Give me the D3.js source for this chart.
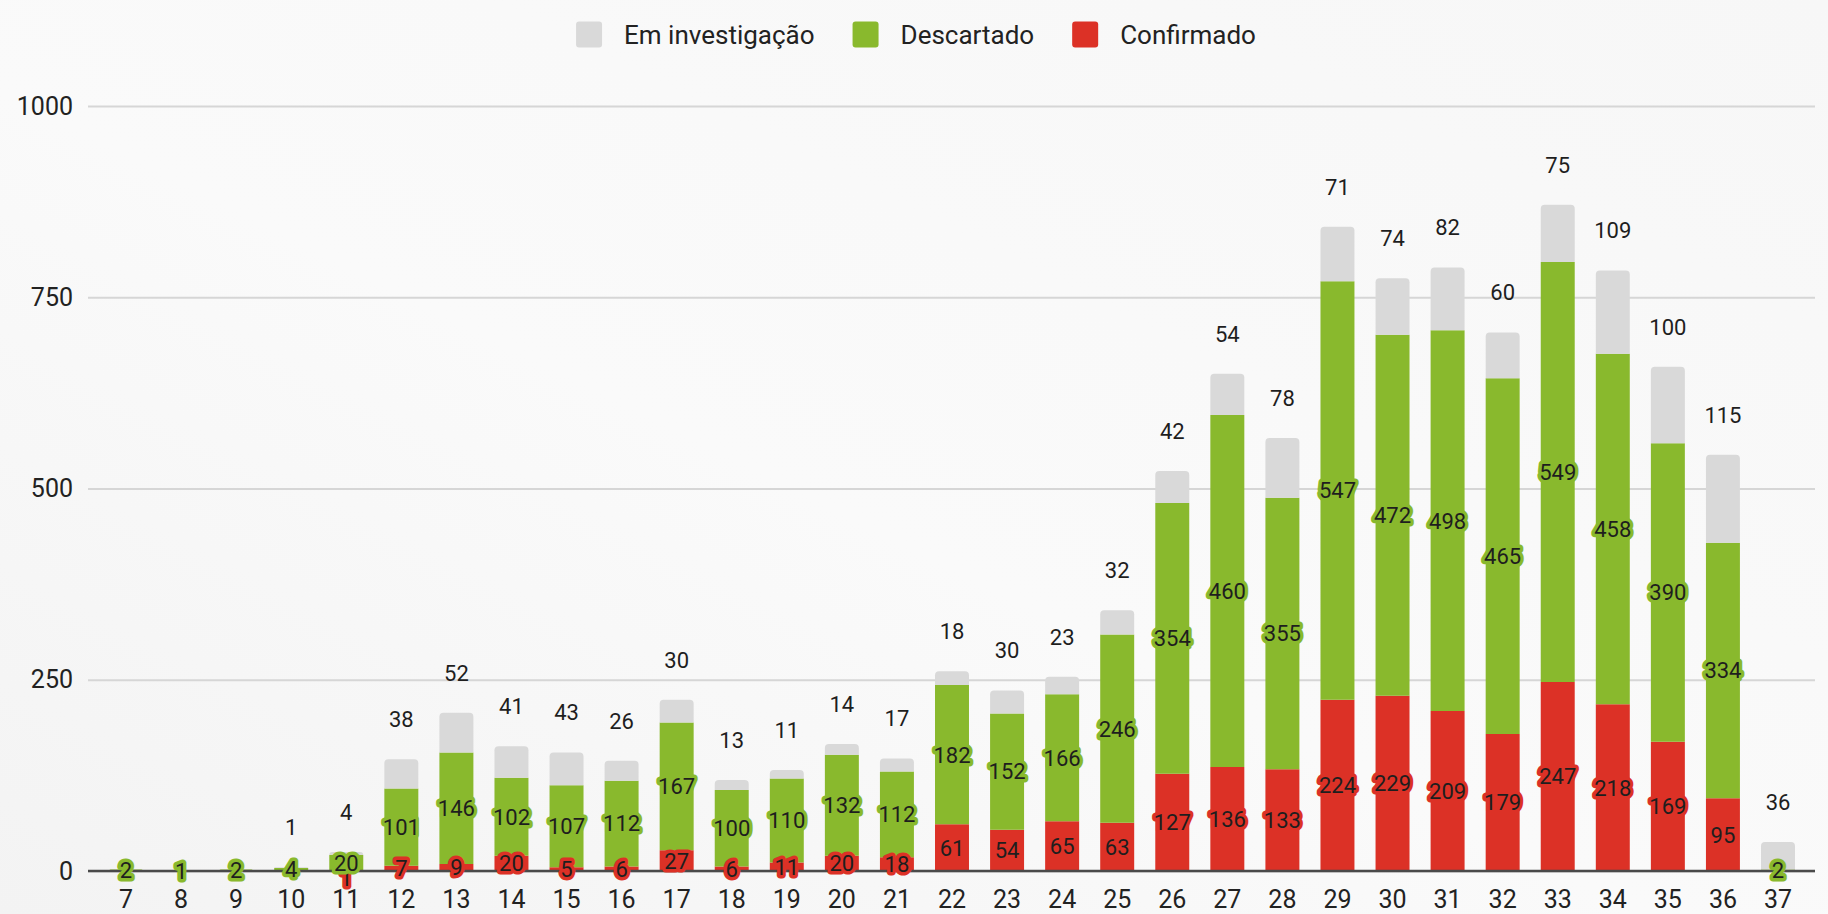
<!DOCTYPE html>
<html>
<head>
<meta charset="utf-8">
<script src="https://cdn.jsdelivr.net/npm/d3@7/dist/d3.min.js"></script>
<style>
    body { margin: 0; background: #f8f8f8; }
    svg { display: block; font-family: Roboto, Arial, sans-serif; }
</style>
</head>
<body>
<div id="chart"></div>
<script>
// Semana epidemiologica
var weeks = [7, 8, 9, 10, 11, 12, 13, 14, 15, 16, 17, 18, 19, 20, 21, 22, 23, 24, 25, 26, 27, 28, 29, 30, 31, 32, 33, 34, 35, 36, 37];
var confirmado = [0, 0, 0, 0, 1, 7, 9, 20, 5, 6, 27, 6, 11, 20, 18, 61, 54, 65, 63, 127, 136, 133, 224, 229, 209, 179, 247, 218, 169, 95, 0];
var descartado = [2, 1, 2, 4, 20, 101, 146, 102, 107, 112, 167, 100, 110, 132, 112, 182, 152, 166, 246, 354, 460, 355, 547, 472, 498, 465, 549, 458, 390, 334, 2];
var investigacao = [0, 0, 0, 1, 4, 38, 52, 41, 43, 26, 30, 13, 11, 14, 17, 18, 30, 23, 32, 42, 54, 78, 71, 74, 82, 60, 75, 109, 100, 115, 36];
var yTicks = [0, 250, 500, 750, 1000];

var stackKeys = ["Confirmado", "Descartado", "Em investigação"];
var legendKeys = ["Em investigação", "Descartado", "Confirmado"];
var colors = {"Confirmado": "#dc3126", "Descartado": "#89b92d", "Em investigação": "#d9d9d9"};

var W = 1828, H = 914;
var plotLeft = 88, plotRight = 1815;

var svg = d3.select("#chart")
    .append("svg")
    .attr("width", W)
    .attr("height", H);

// background, light grey with a soft sheen
var defs = svg.append("defs");
var grad = defs.append("linearGradient")
    .attr("id", "bg")
    .attr("x1", "0").attr("y1", "1").attr("x2", "1").attr("y2", "0");
grad.append("stop").attr("offset", "0").attr("stop-color", "#f3f3f3");
grad.append("stop").attr("offset", "0.45").attr("stop-color", "#fafafa");
grad.append("stop").attr("offset", "1").attr("stop-color", "#f7f7f7");
svg.append("rect").attr("width", W).attr("height", H).attr("fill", "url(#bg)");

var rows = weeks.map((w, i) => ({
    week: String(w),
    "Confirmado": confirmado[i],
    "Descartado": descartado[i],
    "Em investigação": investigacao[i]
}));

var stackedData = d3.stack().keys(stackKeys)(rows);

// scales
var step = (1778 - 126) / (weeks.length - 1);
var x = d3.scaleBand()
    .domain(rows.map(d => d.week))
    .range([126 - step / 2, 1778 + step / 2])
    .paddingInner(0.383)
    .paddingOuter(0.1915);

var y = d3.scaleLinear()
    .domain([0, 1000])
    .range([871, 106]);

// gridlines + y labels
var yAxis = svg.append("g")
    .attr("transform", `translate(${plotLeft},0)`)
    .call(d3.axisLeft(y).tickValues(yTicks).tickFormat(d3.format("d"))
        .tickSize(-(plotRight - plotLeft)).tickPadding(15));
yAxis.select(".domain").remove();
yAxis.selectAll(".tick line").attr("stroke", "#d6d6d6").attr("stroke-width", 2);
yAxis.selectAll(".tick text")
    .attr("fill", "#222")
    .style("font-size", "25px")
    .style("font-family", "Roboto, Arial, sans-serif");

// top of each stack gets rounded corners
function topKey(d) {
    var k = null;
    stackKeys.forEach(key => { if (d[key] > 0) k = key; });
    return k;
}
function roundTop(x0, y0, w, h, r) {
    r = Math.min(r, h, w / 2);
    return `M${x0},${y0 + h}V${y0 + r}Q${x0},${y0} ${x0 + r},${y0}H${x0 + w - r}Q${x0 + w},${y0} ${x0 + w},${y0 + r}V${y0 + h}Z`;
}

// bars
svg.selectAll(".series")
    .data(stackedData)
    .enter()
    .append("g")
    .attr("class", "series")
    .attr("fill", d => colors[d.key])
    .each(function(s) {
        d3.select(this).selectAll("path")
            .data(s.filter(d => d[1] - d[0] > 0))
            .enter()
            .append("path")
            .attr("d", d => {
                var top = y(d[1]), bot = y(d[0]);
                var r = topKey(d.data) === s.key ? 4 : 0;
                return roundTop(x(d.data.week), top, x.bandwidth(), bot - top, r);
            });
    });

// baseline
svg.append("line")
    .attr("x1", plotLeft).attr("x2", plotRight)
    .attr("y1", y(0)).attr("y2", y(0))
    .attr("stroke", "#4a4a4a")
    .attr("stroke-width", 2.5);

// x labels
var xAxis = svg.append("g")
    .attr("transform", `translate(0,${y(0)})`)
    .call(d3.axisBottom(x).tickSize(0).tickPadding(19));
xAxis.select(".domain").remove();
xAxis.selectAll(".tick text")
    .attr("fill", "#222")
    .style("font-size", "25px")
    .style("font-family", "Roboto, Arial, sans-serif");

// label centre for a segment; small confirmed labels get pushed below
// the descartado label when both would sit on top of each other
function labelY(s, d) {
    if (s.key === "Em investigação") return y(d[1]) - 40;
    var cy = y((d[0] + d[1]) / 2);
    if (s.key === "Confirmado" && d.data["Descartado"] > 0) {
        var above = y(d[1] + d.data["Descartado"] / 2);
        if (cy - above < 15) cy = above + 15;
    }
    return cy;
}

// value labels (with halo in the segment colour)
stackedData.forEach(s => {
    var inside = s.key !== "Em investigação";
    svg.append("g")
        .selectAll("text")
        .data(s.filter(d => d[1] - d[0] > 0))
        .enter()
        .append("text")
        .attr("x", d => x(d.data.week) + x.bandwidth() / 2)
        .attr("y", d => labelY(s, d))
        .attr("dy", "0.36em")
        .attr("text-anchor", "middle")
        .style("font-size", "22px")
        .attr("fill", "#1e1e1e")
        .attr("stroke", inside ? colors[s.key] : "none")
        .attr("stroke-width", 7)
        .attr("stroke-linejoin", "round")
        .attr("paint-order", "stroke")
        .text(d => d[1] - d[0]);
});

// legend
var legend = svg.append("g").attr("class", "legend");
var lx = 0;
legendKeys.forEach(key => {
    var item = legend.append("g").attr("transform", `translate(${lx},0)`);
    item.append("rect")
        .attr("x", 0).attr("y", -13)
        .attr("width", 26).attr("height", 26)
        .attr("rx", 3)
        .attr("fill", colors[key]);
    var t = item.append("text")
        .attr("x", 48)
        .attr("dy", "0.36em")
        .attr("fill", "#222")
        .style("font-size", "26px")
        .text(key);
    lx += 48 + t.node().getComputedTextLength() + 38;
});
var legendWidth = lx - 38;
legend.attr("transform", `translate(${W / 2 - legendWidth / 2 + 2},34.5)`);
</script>
</body>
</html>
